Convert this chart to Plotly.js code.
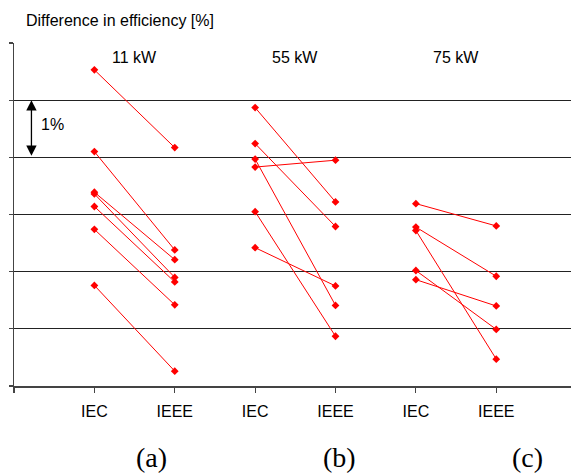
<!DOCTYPE html>
<html>
<head>
<meta charset="utf-8">
<script src="https://cdn.plot.ly/plotly-3.0.1.min.js"></script>
<style>html,body{margin:0;padding:0;background:#fff;}#chart{width:571px;height:474px;}</style>
</head>
<body>
<div id="chart"></div>
<script>
// Category tick labels (one per x position)
const tickLabels = ['', 'IEC', 'IEEE', 'IEC', 'IEEE', 'IEC', 'IEEE'];
const groupNames = ['11 kW', '55 kW', '75 kW'];
const panelLabels = ['(a)', '(b)', '(c)'];

// Relative efficiency values (1 unit = 1 %)
const iec11  = [5.53, 4.10, 3.39, 3.36, 3.14, 2.74, 1.76];
const ieee11 = [4.17, 2.38, 2.21, 1.90, 1.82, 1.42, 0.26];
const iec55  = [4.87, 4.24, 3.97, 3.83, 3.05, 2.42];
const ieee55 = [3.22, 2.79, 1.41, 3.95, 0.87, 1.75];
const iec75  = [3.19, 2.78, 2.72, 2.02, 1.86];
const ieee75 = [2.80, 1.92, 0.47, 0.99, 1.40];

const groups = [[iec11, ieee11], [iec55, ieee55], [iec75, ieee75]];

const traces = [];
groups.forEach((g, gi) => {
  const xa = gi * 2, xb = gi * 2 + 1;
  g[0].forEach((v, i) => {
    traces.push({
      x: [xa, xb], y: [v, g[1][i]],
      mode: 'lines+markers', type: 'scatter', showlegend: false,
      line: {color: '#ff0000', width: 1},
      marker: {color: '#ff0000', size: 6, symbol: 'diamond'},
      hoverinfo: 'skip', cliponaxis: false
    });
  });
});

const annotations = [];
groupNames.forEach((n, gi) => {
  annotations.push({x: gi * 2 + 0.5, y: 5.74, xref: 'x', yref: 'y', text: n, showarrow: false,
    font: {family: 'Liberation Sans, Arial, sans-serif', size: 16, color: '#000'}});
});
panelLabels.forEach((t, i) => {
  annotations.push({x: [0.707, 3.05, 5.39][i], y: -0.208, xref: 'x', yref: 'paper', text: t, showarrow: false,
    yanchor: 'middle', font: {family: 'Liberation Serif, Times New Roman, serif', size: 28, color: '#000'}});
});
// 1% scale arrow
annotations.push({x: -0.783, y: 5, ax: -0.783, ay: 4, xref: 'x', yref: 'y', axref: 'x', ayref: 'y',
  text: '', showarrow: true, arrowside: 'end+start', arrowhead: 2, arrowsize: 1.6, arrowwidth: 1.3,
  arrowcolor: '#000', standoff: 0, startstandoff: 0});
annotations.push({x: -0.522, y: 4.57, xref: 'x', yref: 'y', text: '1%', showarrow: false,
  font: {family: 'Liberation Sans, Arial, sans-serif', size: 16, color: '#000'}});

const layout = {
  width: 571, height: 474,
  margin: {l: 14, r: 0, t: 43, b: 88},
  paper_bgcolor: '#fff', plot_bgcolor: '#fff',
  title: {text: 'Difference in efficiency [%]', x: 26 / 571, xanchor: 'left', xref: 'container',
    y: 1 - 20 / 474, yanchor: 'middle', yref: 'container',
    font: {family: 'Liberation Sans, Arial, sans-serif', size: 16, color: '#000'}},
  xaxis: {range: [-1, 5.93], tickvals: [-1, 0, 1, 2, 3, 4, 5], ticktext: tickLabels,
    showgrid: false, zeroline: false, showline: true, linecolor: '#444', linewidth: 1.5,
    ticks: 'outside', ticklen: 5, tickcolor: '#444', tickwidth: 1.2, ticklabelstandoff: 5,
    tickfont: {family: 'Liberation Sans, Arial, sans-serif', size: 16, color: '#000'}, fixedrange: true},
  yaxis: {range: [0, 6], tickvals: [0, 1, 2, 3, 4, 5, 6], showticklabels: false,
    showgrid: true, gridcolor: '#222', gridwidth: 1.3, zeroline: false,
    showline: true, linecolor: '#444', linewidth: 1.5,
    ticks: 'outside', ticklen: 4, tickcolor: '#444', tickwidth: 1.2, fixedrange: true},
  annotations: annotations,
  showlegend: false
};

Plotly.newPlot('chart', traces, layout, {displayModeBar: false, staticPlot: true});
</script>
</body>
</html>
